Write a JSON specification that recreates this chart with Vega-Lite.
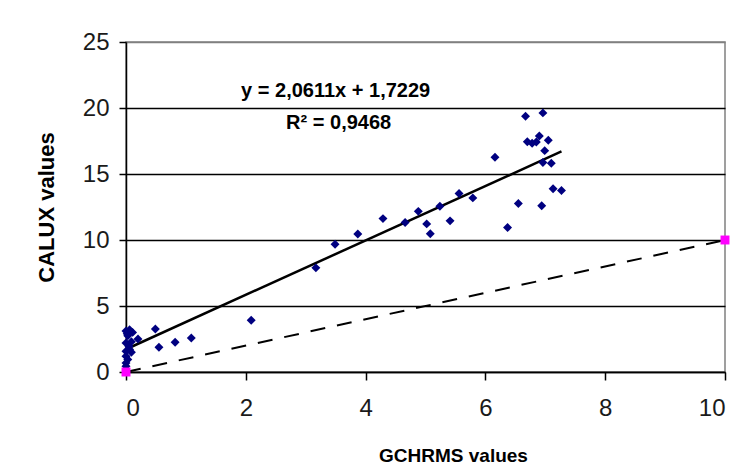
{
  "$schema": "https://vega.github.io/schema/vega-lite/v6.json",
  "width": 599,
  "height": 330,
  "autosize": {"type": "none"},
  "padding": {"left": 126, "top": 42, "right": 26, "bottom": 98},
  "background": "white",
  "config": {
    "font": "Liberation Sans",
    "view": {"stroke": "#808080", "strokeWidth": 1.5},
    "axis": {
      "labelFont": "Liberation Sans",
      "titleFont": "Liberation Sans",
      "labelFontSize": 24,
      "labelColor": "#1a1a1a",
      "titleColor": "black",
      "titleFontWeight": "bold",
      "domainColor": "black",
      "domainWidth": 1.5,
      "tickColor": "black",
      "tickWidth": 1.5
    }
  },
  "datasets": {
    "points": [
      {"gchrms": 0.06, "calux": 3.2}, {"gchrms": 0.0, "calux": 3.1}, {"gchrms": 0.11, "calux": 3.0},
      {"gchrms": 0.03, "calux": 2.75}, {"gchrms": 0.02, "calux": 2.9}, {"gchrms": 0.2, "calux": 2.5},
      {"gchrms": 0.09, "calux": 2.3}, {"gchrms": 0.0, "calux": 2.2}, {"gchrms": 0.05, "calux": 1.95},
      {"gchrms": 0.06, "calux": 1.7}, {"gchrms": 0.0, "calux": 1.57}, {"gchrms": 0.09, "calux": 1.5},
      {"gchrms": 0.0, "calux": 1.2}, {"gchrms": 0.03, "calux": 0.94}, {"gchrms": 0.0, "calux": 0.69},
      {"gchrms": 0.0, "calux": 0.43},
      {"gchrms": 0.49, "calux": 3.26}, {"gchrms": 0.55, "calux": 1.87}, {"gchrms": 0.82, "calux": 2.25},
      {"gchrms": 1.09, "calux": 2.58}, {"gchrms": 2.09, "calux": 3.92}, {"gchrms": 3.17, "calux": 7.89},
      {"gchrms": 3.49, "calux": 9.68}, {"gchrms": 3.87, "calux": 10.46}, {"gchrms": 4.29, "calux": 11.62},
      {"gchrms": 4.66, "calux": 11.32}, {"gchrms": 4.88, "calux": 12.17}, {"gchrms": 5.02, "calux": 11.22},
      {"gchrms": 5.08, "calux": 10.48}, {"gchrms": 5.24, "calux": 12.55}, {"gchrms": 5.41, "calux": 11.45},
      {"gchrms": 5.56, "calux": 13.52}, {"gchrms": 5.79, "calux": 13.19}, {"gchrms": 6.16, "calux": 16.27},
      {"gchrms": 6.37, "calux": 10.94}, {"gchrms": 6.55, "calux": 12.76}, {"gchrms": 6.94, "calux": 12.6},
      {"gchrms": 7.13, "calux": 13.88}, {"gchrms": 7.27, "calux": 13.75}, {"gchrms": 6.67, "calux": 19.37},
      {"gchrms": 6.96, "calux": 19.63}, {"gchrms": 6.7, "calux": 17.44}, {"gchrms": 6.78, "calux": 17.33},
      {"gchrms": 6.85, "calux": 17.43}, {"gchrms": 6.9, "calux": 17.88}, {"gchrms": 7.05, "calux": 17.55},
      {"gchrms": 6.99, "calux": 16.77}, {"gchrms": 6.96, "calux": 15.87}, {"gchrms": 7.1, "calux": 15.82}
    ],
    "trend": [
      {"gchrms": 0, "calux": 1.7229},
      {"gchrms": 7.27, "calux": 16.707}
    ],
    "identity": [
      {"gchrms": 0, "calux": 0},
      {"gchrms": 10, "calux": 10}
    ],
    "labels": [
      {"gchrms": 3.5, "calux": 21.3, "text": "y = 2,0611x + 1,7229"},
      {"gchrms": 3.55, "calux": 18.85, "text": "R² = 0,9468"}
    ]
  },
  "encoding": {
    "x": {
      "field": "gchrms", "type": "quantitative",
      "scale": {"domain": [0, 10], "nice": false, "zero": false},
      "axis": {
        "title": "GCHRMS values", "titleFontSize": 19, "values": [0, 2, 4, 6, 8, 10],
        "grid": false, "tickSize": 8, "labelPadding": 16, "titlePadding": 26, "titleX": 327
      }
    },
    "y": {
      "field": "calux", "type": "quantitative",
      "scale": {"domain": [0, 25], "nice": false, "zero": false},
      "axis": {
        "title": "CALUX values", "titleFontSize": 22, "values": [0, 5, 10, 15, 20, 25],
        "grid": true, "gridWidth": 1.5,
        "gridColor": {"condition": {"test": "datum.value === 25", "value": "#808080"}, "value": "black"},
        "tickSize": 7, "labelPadding": 10, "titlePadding": 24
      }
    }
  },
  "layer": [
    {
      "data": {"name": "identity"},
      "mark": {"type": "line", "color": "black", "strokeWidth": 2, "strokeDash": [15, 12], "clip": false}
    },
    {
      "data": {"name": "trend"},
      "mark": {"type": "line", "color": "black", "strokeWidth": 2.5}
    },
    {
      "data": {"name": "points"},
      "mark": {"type": "point", "shape": "diamond", "filled": true, "color": "#000080", "opacity": 1, "size": 80}
    },
    {
      "data": {"name": "identity"},
      "mark": {"type": "point", "shape": "square", "filled": true, "color": "#FF00FF", "opacity": 1, "size": 80, "clip": false}
    },
    {
      "data": {"name": "labels"},
      "mark": {"type": "text", "font": "Liberation Sans", "fontWeight": "bold", "fontSize": 20, "color": "black", "align": "center", "baseline": "middle"},
      "encoding": {"text": {"field": "text"}}
    }
  ]
}
